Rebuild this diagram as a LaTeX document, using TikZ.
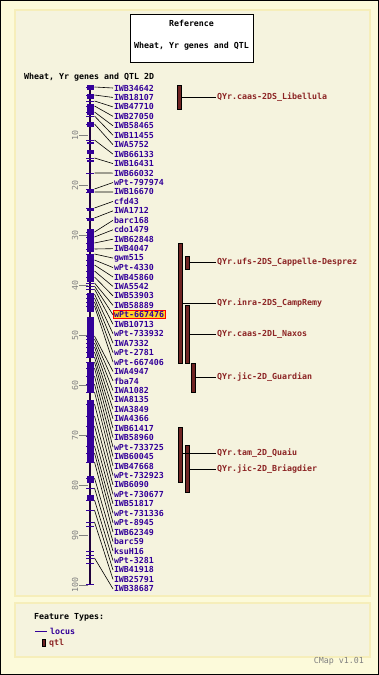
\documentclass[tikz,border=0pt]{standalone}
\usepackage{fontspec}
\setmonofont{DejaVu Sans Mono}
\definecolor{outerbg}{RGB}{252,250,218}
\definecolor{panelbg}{RGB}{245,243,222}
\definecolor{panelbd}{RGB}{246,238,186}
\definecolor{locus}{RGB}{51,0,153}
\definecolor{axisdark}{RGB}{30,0,60}
\definecolor{qtlfill}{RGB}{112,36,36}
\definecolor{qtltext}{RGB}{140,36,36}
\definecolor{scalegrey}{RGB}{128,128,128}
\definecolor{hlfill}{RGB}{255,210,40}
\tikzset{
  lab/.style={anchor=west, text=locus, inner sep=0.8pt},
  labhl/.style={anchor=west, text=locus, inner sep=0.8pt, fill=hlfill, draw=red, line width=0.8pt},
  qlab/.style={anchor=west, text=qtltext, inner sep=1pt},
  qtlbar/.style={draw=black, fill=qtlfill, line width=0.7pt, minimum width=4pt, inner sep=0pt},
  conn/.style={black, line width=0.6pt},
  txt/.style={inner sep=0pt}
}
\begin{document}
\begin{tikzpicture}[x=1pt,y=-1pt, font=\ttfamily\bfseries\fontsize{8.3}{9.5}\selectfont]
\useasboundingbox (0,0) rectangle (379,675);
\fill[outerbg] (0,0) rectangle (379,675);
\draw[black, line width=1pt] (0.5,0.5) rectangle (378.5,674.5);
% panels
\filldraw[fill=panelbg, draw=panelbd, line width=1.5pt] (15,10) rectangle (370,596);
\filldraw[fill=panelbg, draw=panelbd, line width=1.5pt] (15,603) rectangle (370,657);
% title box
\node[draw=black, fill=white, line width=0.8pt, minimum width=123pt, minimum height=48pt, inner sep=0pt] (titlebox) at (191.5,38) {};
\node[txt] (reftext) at (191.5,23) {Reference};
\node[txt] (reftext2) at (191.5,46) {Wheat, Yr genes and QTL};
% map title
\node[txt, anchor=west] (maptitle) at (24,77) {Wheat, Yr genes and QTL 2D};
% scale
\foreach \v in {10,20,...,100}{
  \draw[scalegrey, line width=0.7pt] (79,{85+5*\v}) -- (88,{85+5*\v});
  \node[txt, text=scalegrey, rotate=90, font=\ttfamily\mdseries\fontsize{8.3}{9.5}\selectfont] (s\v) at (75,{85+5*\v}) {\v};
}
% axis
\draw[axisdark, line width=2pt] (90,85) -- (90,585);
\foreach \a/\b in {85/90,94/99,104/115,122/127,142/144,150/154,160/162,189/193,208/211,218/221,229/252,254/282,293/312,317/358,363/392,400/462,476/483,495/500}{
  \fill[locus] (86.5,\a) rectangle (93.5,\b);
}
\foreach \y in {526,551,555,563,584}{
  \draw[locus, line width=1pt] (86,\y) -- (94,\y);
}
% loci
\foreach \nm/\my/\st [count=\i] in {
IWB34642/87/lab, IWB18107/95/lab, IWB47710/101/lab, IWB27050/106/lab, IWB58465/112/lab,
IWB11455/116/lab, IWA5752/124/lab, IWB66133/140/lab, IWB16431/158/lab, IWB66032/173/lab,
wPt-797974/189/lab, IWB16670/192/lab, cfd43/208/lab, IWA1712/218/lab, barc168/232/lab,
cdo1479/237/lab, IWB62848/243/lab, IWB4047/249/lab, gwm515/254/lab, wPt-4330/260/lab,
IWB45860/265/lab, IWA5542/271/lab, IWB53903/277/lab, IWB58889/283/lab, wPt-667476/286/labhl,
IWB10713/289/lab, wPt-733932/294/lab, IWA7332/298/lab, wPt-2781/302/lab, wPt-667406/306/lab,
IWA4947/336/lab, fba74/339/lab, IWA1082/343/lab, IWA8135/347/lab, IWA3849/352/lab,
IWA4366/357/lab, IWB61417/362/lab, IWB58960/368/lab, wPt-733725/376/lab, IWB60045/384/lab,
IWB47668/392/lab, wPt-732923/404/lab, IWB6090/416/lab, wPt-730677/426/lab, IWB51817/436/lab,
wPt-731336/446/lab, wPt-8945/453/lab, IWB62349/462/lab, barc59/478/lab, ksuH16/488/lab,
wPt-3281/500/lab, IWB41918/510/lab, IWB25791/522/lab, IWB38687/558/lab}{
  \draw[locus, line width=1pt] (86,\my) -- (94,\my);
  \coordinate (m\i) at (94.5,\my);
  \node[\st] (l\i) at (113,{88+(\i-1)*9.45}) {\nm};
  \draw[conn] (m\i) -- (l\i.west);
}
% QTLs
\node[qtlbar, minimum height=24pt] (q1) at (179.5,97) {};
\node[qtlbar, minimum height=120pt] (q2) at (180,303) {};
\node[qtlbar, minimum height=13pt] (q3) at (187,262.5) {};
\node[qtlbar, minimum height=58pt] (q4) at (187,334) {};
\node[qtlbar, minimum height=29pt] (q5) at (193,377.5) {};
\node[qtlbar, minimum height=55pt] (q6) at (180,454.5) {};
\node[qtlbar, minimum height=47pt] (q7) at (187,468.5) {};
\node[qlab] (ql1) at (216,97) {QYr.caas-2DS\_Libellula};
\node[qlab] (ql2) at (216,303) {QYr.inra-2DS\_CampRemy};
\node[qlab] (ql3) at (216,262.5) {QYr.ufs-2DS\_Cappelle-Desprez};
\node[qlab] (ql4) at (216,334) {QYr.caas-2DL\_Naxos};
\node[qlab] (ql5) at (216,377.5) {QYr.jic-2D\_Guardian};
\node[qlab] (ql6) at (216,453) {QYr.tam\_2D\_Quaiu};
\node[qlab] (ql7) at (216,469) {QYr.jic-2D\_Briagdier};
\foreach \k in {1,...,7}{
  \draw[conn] (q\k.east |- ql\k.west) -- (ql\k.west);
}
% legend
\node[txt, anchor=west] (ftypes) at (34,617) {Feature Types:};
\coordinate (lgA) at (35,631);
\coordinate (lgB) at (47,631);
\draw[locus, line width=1pt] (lgA) -- (lgB);
\node[txt, anchor=west, text=locus] (lglocus) at (50,631) {locus};
\node[qtlbar, minimum height=7.5pt, minimum width=3.5pt] (lgq) at (44,643) {};
\node[txt, anchor=west, text=qtltext] (lgqtl) at (49,643) {qtl};
\node[txt, anchor=east, text=scalegrey, font=\ttfamily\mdseries\fontsize{8.3}{9.5}\selectfont] (cmap) at (364,661) {CMap v1.01};
\end{tikzpicture}
\end{document}
